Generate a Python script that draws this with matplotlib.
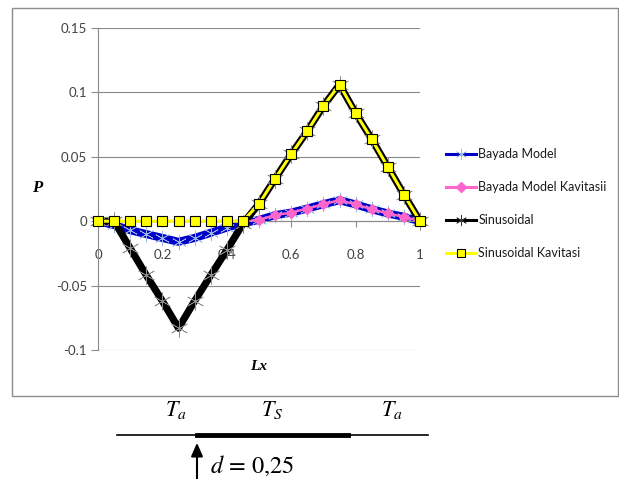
import matplotlib
matplotlib.use("Agg")
import matplotlib.pyplot as plt
from matplotlib.patches import Rectangle
from matplotlib.lines import Line2D

# data
lx = [0, 0.05, 0.1, 0.15, 0.2, 0.25, 0.3, 0.35, 0.4, 0.45, 0.5,
      0.55, 0.6, 0.65, 0.7, 0.75, 0.8, 0.85, 0.9, 0.95, 1.0]
bayada = [0, -0.003, -0.007, -0.010, -0.013, -0.016, -0.013, -0.009, -0.005, -0.0015, 0.001,
          0.0047, 0.0067, 0.0098, 0.0132, 0.0163, 0.013, 0.0093, 0.006, 0.0034, 0]
bayada_kav = [0, 0, 0, 0, 0, 0, 0, 0, 0, 0, 0.001,
              0.0047, 0.0067, 0.0098, 0.0132, 0.0163, 0.013, 0.0093, 0.006, 0.0034, 0]
sinus = [0, 0, -0.021, -0.042, -0.062, -0.083, -0.062, -0.042, -0.0225, -0.002, 0.0135,
         0.033, 0.052, 0.070, 0.0895, 0.106, 0.084, 0.0637, 0.0422, 0.0207, 0]
sinus_kav = [0, 0, 0, 0, 0, 0, 0, 0, 0, 0, 0.0135,
             0.033, 0.052, 0.070, 0.0895, 0.106, 0.084, 0.0637, 0.0422, 0.0207, 0]

x_ticks = [0, 0.2, 0.4, 0.6, 0.8, 1]
y_ticks = [-0.1, -0.05, 0, 0.05, 0.1, 0.15]
x_tick_labels = ["0", "0.2", "0.4", "0.6", "0.8", "1"]
y_tick_labels = ["-0.1", "-0.05", "0", "0.05", "0.1", "0.15"]

plt.rcParams["mathtext.fontset"] = "stix"

W, H = 619, 479
fig = plt.figure(figsize=(W / 100, H / 100), dpi=100)
ax = fig.add_axes([98 / W, (H - 350) / H, 322 / W, 322 / H])

# chart border
fig.add_artist(Rectangle((12 / W, (H - 396) / H), 606 / W, 388 / H,
                         transform=fig.transFigure, fill=False,
                         edgecolor="#8c8c8c", linewidth=1))

ax.set_xlim(0, 1)
ax.set_ylim(-0.1, 0.15)
for yv in y_ticks:
    ax.axhline(yv, color="#8a8a8a", linewidth=0.8, zorder=0)

star = (6, 2, 0)
ax.plot(lx, bayada, color="#0000c8", linewidth=5.8, marker=star, markersize=11,
        markeredgecolor="#9ab8e6", markeredgewidth=0.5, label="Bayada Model",
        clip_on=False, zorder=2)
ax.plot(lx, bayada_kav, color="#ff66cc", linewidth=1.8, marker="D", markersize=5,
        markerfacecolor="#ff66cc", markeredgecolor="#ff66cc",
        label="Bayada Model Kavitasii", clip_on=False, zorder=3)
ax.plot(lx, sinus, color="black", linewidth=5.2, marker=star, markersize=13,
        markeredgecolor="#8c8c8c", markeredgewidth=0.5, label="Sinusoidal",
        clip_on=False, zorder=4)
ax.plot(lx, sinus_kav, color="#ffff00", linewidth=2.2, marker="s", markersize=6.5,
        markerfacecolor="#ffff00", markeredgecolor="black", markeredgewidth=0.8,
        label="Sinusoidal Kavitasi", clip_on=False, zorder=5)

ax.spines["top"].set_visible(False)
ax.spines["right"].set_visible(False)
ax.spines["bottom"].set_position(("data", 0))
ax.spines["bottom"].set_color("#8a8a8a")
ax.spines["left"].set_color("#8a8a8a")
ax.set_xticks(x_ticks)
ax.set_xticklabels(x_tick_labels)
ax.set_yticks(y_ticks)
ax.set_yticklabels(y_tick_labels)
ax.tick_params(axis="x", direction="out", length=4, color="#8a8a8a", pad=16,
               labelsize=9.5, labelcolor="#404040")
ax.tick_params(axis="y", direction="out", length=5, color="#8a8a8a", pad=3,
               labelsize=9.5, labelcolor="#404040")
for lbl in ax.get_xticklabels() + ax.get_yticklabels():
    lbl.set_family(["Lato", "DejaVu Sans"])

fig.text(37 / W, (H - 188) / H, "P", family="Liberation Serif", style="italic",
         weight="bold", fontsize=12, ha="center", va="center")
fig.text(259 / W, (H - 366) / H, "Lx", family="Liberation Serif", style="italic",
         weight="bold", fontsize=11, ha="center", va="center")

leg = ax.legend(loc="upper left", bbox_to_anchor=(446 / W, (H - 148) / H),
                bbox_transform=fig.transFigure, frameon=False,
                prop={"family": ["Lato", "DejaVu Sans"], "size": 9},
                handlelength=2.4, handletextpad=0.2, labelspacing=1.68,
                borderpad=0, borderaxespad=0)
for t in leg.get_texts():
    t.set_color("#1a1a1a")
leg_sizes = [8, 5, 8, 6]
for h, ms in zip(leg.legend_handles, leg_sizes):
    h.set_linewidth(2.2)
    h.set_markersize(ms)
leg.legend_handles[2].set_markeredgecolor("#333333")

# bottom sketch of the bearing zones
fig.add_artist(Line2D([117 / W, 428 / W], [(H - 435) / H] * 2,
                      transform=fig.transFigure, color="black", linewidth=1.2))
fig.add_artist(Line2D([197 / W, 348 / W], [(H - 435) / H] * 2,
                      transform=fig.transFigure, color="black", linewidth=3.5))
ax.annotate("", xy=(197, H - 440), xycoords="figure pixels",
            xytext=(197, H - 482), textcoords="figure pixels",
            arrowprops=dict(arrowstyle="-|>,head_length=0.8,head_width=0.35",
                            color="black", linewidth=1.5))
fig.text(176 / W, (H - 410) / H, r"$T_a$", fontsize=16, ha="center", va="center")
fig.text(272 / W, (H - 410) / H, r"$T_S$", fontsize=16, ha="center", va="center")
fig.text(392 / W, (H - 410) / H, r"$T_a$", fontsize=16, ha="center", va="center")
fig.text(210 / W, (H - 466) / H, r"$d\,=\,$0,25", fontsize=17.5, ha="left",
         va="center", family="STIXGeneral")

fig.savefig("out.png", dpi=100)
